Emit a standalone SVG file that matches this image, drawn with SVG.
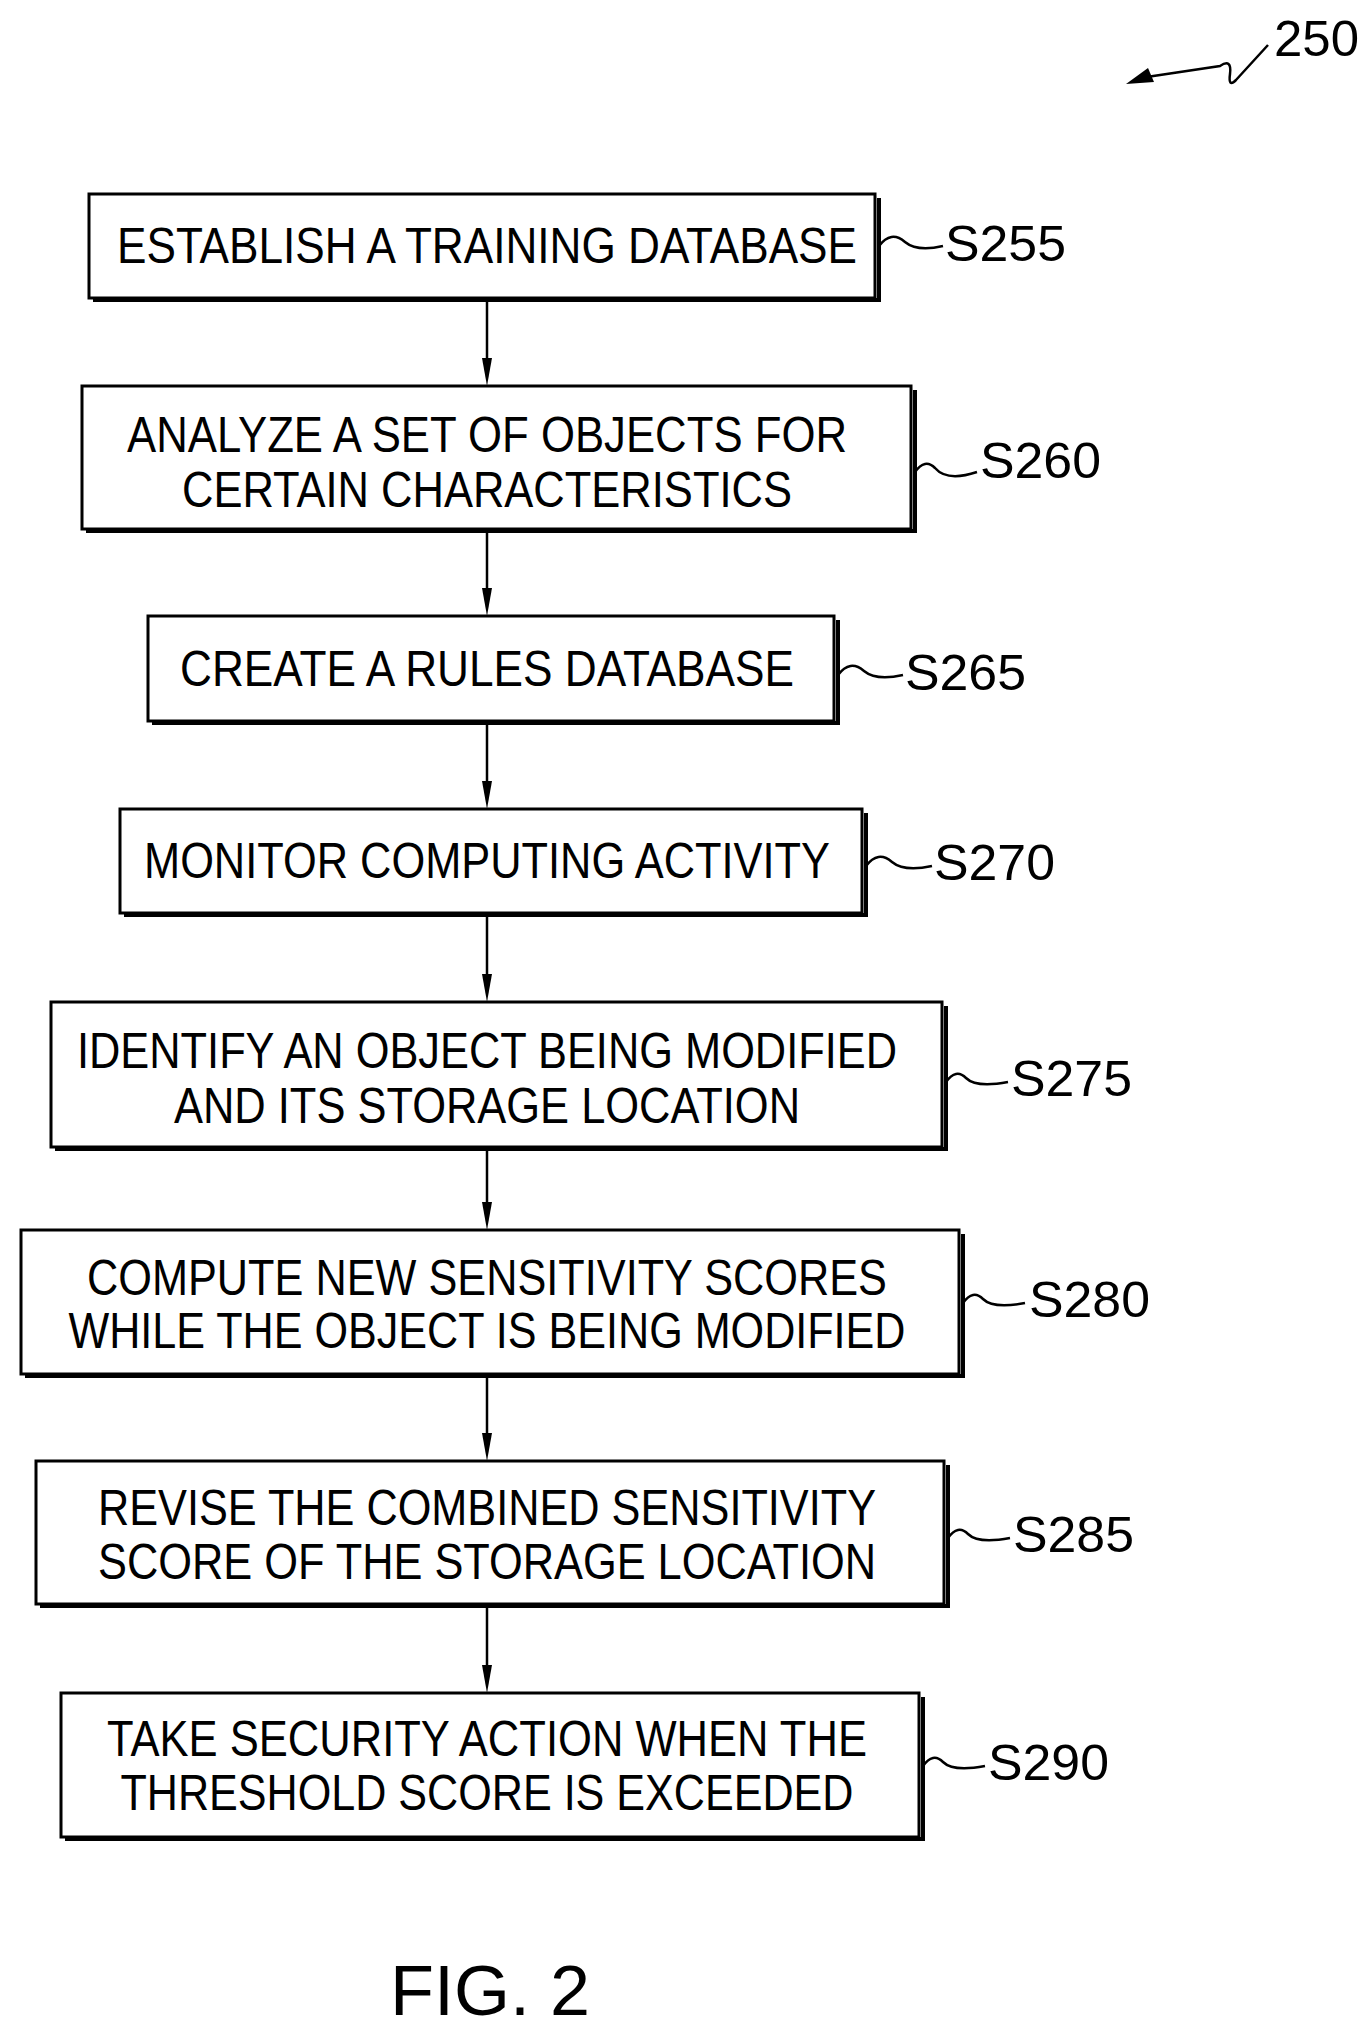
<svg xmlns="http://www.w3.org/2000/svg" width="1372" height="2029" viewBox="0 0 1372 2029">
<style>
.b{fill:#fff;stroke:#000;stroke-width:3}
.s{fill:none;stroke:#000;stroke-width:4}
.t{font-family:"Liberation Sans",Arial,sans-serif;font-size:50px;text-anchor:middle;fill:#000}
.l{font-family:"Liberation Sans",Arial,sans-serif;font-size:50px;fill:#000}
.c{fill:none;stroke:#000;stroke-width:2.5}
</style>
<defs><path id="ah" d="M-5,-28 L0,0 L5,-28 Z" fill="#000"/></defs>
<rect width="1372" height="2029" fill="#fff"/>
<g id="ref250"><text class="l" x="1274" y="56" textLength="85" lengthAdjust="spacingAndGlyphs">250</text>
<path class="c" d="M1268,45 L1236,80 Q1228,88 1230,74 Q1232,58 1220,66 L1140,78"/><path d="M1126,84 L1148,68 L1154,82 Z" fill="#000"/></g>
<g id="connectors">
<line class="c" x1="487" y1="298" x2="487" y2="362"/><use href="#ah" x="487" y="386"/>
<line class="c" x1="487" y1="529" x2="487" y2="592"/><use href="#ah" x="487" y="616"/>
<line class="c" x1="487" y1="721" x2="487" y2="785"/><use href="#ah" x="487" y="809"/>
<line class="c" x1="487" y1="913" x2="487" y2="978"/><use href="#ah" x="487" y="1002"/>
<line class="c" x1="487" y1="1147" x2="487" y2="1206"/><use href="#ah" x="487" y="1230"/>
<line class="c" x1="487" y1="1374" x2="487" y2="1437"/><use href="#ah" x="487" y="1461"/>
<line class="c" x1="487" y1="1604" x2="487" y2="1669"/><use href="#ah" x="487" y="1693"/>
</g>
<g id="S255"><path class="s" d="M93,300 H879 V198"/><rect class="b" x="89" y="194" width="786" height="104"/>
<text class="t" x="487" y="263" textLength="740" lengthAdjust="spacingAndGlyphs">ESTABLISH A TRAINING DATABASE</text>
<path class="c" d="M879,246 q12,-16 26,-4 q12,10 38,4"/><text class="l" x="945" y="261" textLength="121" lengthAdjust="spacingAndGlyphs">S255</text></g>
<g id="S260"><path class="s" d="M86,531 H915 V390"/><rect class="b" x="82" y="386" width="829" height="143"/>
<text class="t" x="487" y="452" textLength="720" lengthAdjust="spacingAndGlyphs">ANALYZE A SET OF OBJECTS FOR</text>
<text class="t" x="487" y="507" textLength="610" lengthAdjust="spacingAndGlyphs">CERTAIN CHARACTERISTICS</text>
<path class="c" d="M915,472 q10,-14 20,-4 q12,14 42,4"/><text class="l" x="980" y="478" textLength="121" lengthAdjust="spacingAndGlyphs">S260</text></g>
<g id="S265"><path class="s" d="M152,723 H838 V620"/><rect class="b" x="148" y="616" width="686" height="105"/>
<text class="t" x="487" y="686" textLength="614" lengthAdjust="spacingAndGlyphs">CREATE A RULES DATABASE</text>
<path class="c" d="M838,675 q12,-16 26,-4 q12,10 39,4"/><text class="l" x="905" y="690" textLength="121" lengthAdjust="spacingAndGlyphs">S265</text></g>
<g id="S270"><path class="s" d="M124,915 H866 V813"/><rect class="b" x="120" y="809" width="742" height="104"/>
<text class="t" x="487" y="878" textLength="686" lengthAdjust="spacingAndGlyphs">MONITOR COMPUTING ACTIVITY</text>
<path class="c" d="M866,866 q12,-16 26,-4 q12,10 40,4"/><text class="l" x="934" y="880" textLength="121" lengthAdjust="spacingAndGlyphs">S270</text></g>
<g id="S275"><path class="s" d="M55,1149 H946 V1006"/><rect class="b" x="51" y="1002" width="891" height="145"/>
<text class="t" x="487" y="1068" textLength="820" lengthAdjust="spacingAndGlyphs">IDENTIFY AN OBJECT BEING MODIFIED</text>
<text class="t" x="487" y="1123" textLength="626" lengthAdjust="spacingAndGlyphs">AND ITS STORAGE LOCATION</text>
<path class="c" d="M946,1082 q10,-14 20,-4 q10,10 42,4"/><text class="l" x="1011" y="1096" textLength="121" lengthAdjust="spacingAndGlyphs">S275</text></g>
<g id="S280"><path class="s" d="M25,1376 H963 V1234"/><rect class="b" x="21" y="1230" width="938" height="144"/>
<text class="t" x="487" y="1295" textLength="800" lengthAdjust="spacingAndGlyphs">COMPUTE NEW SENSITIVITY SCORES</text>
<text class="t" x="487" y="1348" textLength="837" lengthAdjust="spacingAndGlyphs">WHILE THE OBJECT IS BEING MODIFIED</text>
<path class="c" d="M963,1303 q10,-14 20,-4 q10,10 42,4"/><text class="l" x="1029" y="1317" textLength="121" lengthAdjust="spacingAndGlyphs">S280</text></g>
<g id="S285"><path class="s" d="M40,1606 H948 V1465"/><rect class="b" x="36" y="1461" width="908" height="143"/>
<text class="t" x="487" y="1525" textLength="778" lengthAdjust="spacingAndGlyphs">REVISE THE COMBINED SENSITIVITY</text>
<text class="t" x="487" y="1579" textLength="778" lengthAdjust="spacingAndGlyphs">SCORE OF THE STORAGE LOCATION</text>
<path class="c" d="M948,1538 q10,-14 20,-4 q10,10 42,4"/><text class="l" x="1013" y="1552" textLength="121" lengthAdjust="spacingAndGlyphs">S285</text></g>
<g id="S290"><path class="s" d="M65,1839 H923 V1697"/><rect class="b" x="61" y="1693" width="858" height="144"/>
<text class="t" x="487" y="1756" textLength="760" lengthAdjust="spacingAndGlyphs">TAKE SECURITY ACTION WHEN THE</text>
<text class="t" x="487" y="1810" textLength="733" lengthAdjust="spacingAndGlyphs">THRESHOLD SCORE IS EXCEEDED</text>
<path class="c" d="M923,1766 q10,-14 20,-4 q10,10 42,4"/><text class="l" x="988" y="1780" textLength="121" lengthAdjust="spacingAndGlyphs">S290</text></g>
<text class="t" x="490" y="2015" style="font-size:70px" textLength="200" lengthAdjust="spacingAndGlyphs">FIG. 2</text>
</svg>
